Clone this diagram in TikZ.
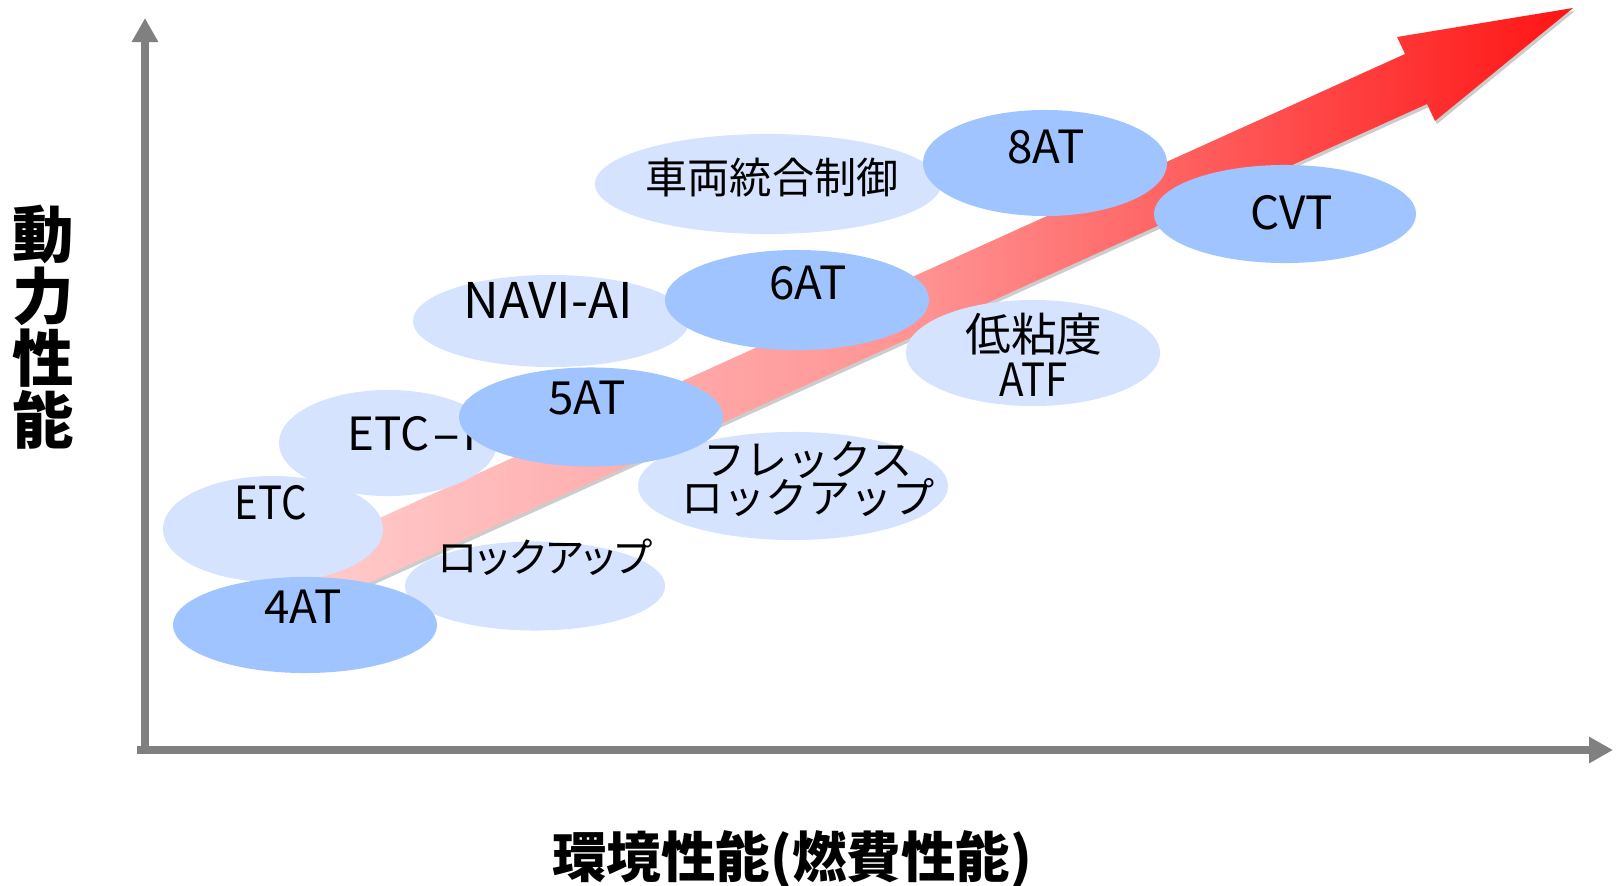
\documentclass[tikz,border=0pt]{standalone}
\usepackage{fontspec}
\setmainfont{Noto Sans CJK JP}
\newfontfamily\narrowfont{Noto Sans CJK JP}[FakeStretch=0.88]
\newfontfamily\paltfont{Noto Sans CJK JP}[RawFeature=+palt]
\usetikzlibrary{shapes.geometric, arrows.meta}
\definecolor{ovlLight}{RGB}{213,227,255}
\definecolor{ovlDark}{RGB}{160,196,255}
\definecolor{axisGray}{RGB}{128,128,128}
\definecolor{arrLeft}{RGB}{255,205,205}
\definecolor{arrMid}{RGB}{255,145,145}
\definecolor{arrRight}{RGB}{255,20,20}

\begin{document}
\begin{tikzpicture}[x=0.01cm, y=-0.01cm,
  techlt/.style={ellipse, fill=ovlLight, inner sep=0pt},
  techdk/.style={ellipse, fill=ovlDark, inner sep=0pt},
  txt/.style={inner sep=0pt, font=\fontsize{13}{15}\selectfont},
  axisline/.style={draw=axisGray, line width=0.075cm, -{Triangle[length=0.24cm, width=0.25cm]}},
  axlbl/.style={inner sep=0pt, font=\bfseries\fontsize{17.5}{17.6}\selectfont, align=center},
]
\useasboundingbox (0,0) rectangle (1616,885);

% axes
\coordinate (origin) at (145,754);
\coordinate (ytip)   at (145,18);
\coordinate (xstart) at (137,750);
\coordinate (xtip)   at (1613,750);
\draw[axisline] (origin) -- (ytip);
\draw[axisline] (xstart) -- (xtip);

\node[axlbl] (ylabel) at (43,327) {動\\力\\性\\能};
\node[inner sep=0pt, font=\bfseries\fontsize{15.5}{17}\selectfont] (xlabel) at (792,860) {環境性能(燃費性能)};

% trend arrow
\fill[black!20] (313,612) -- (291,562) -- (1407,57) -- (1399,40) -- (1575,11) -- (1437,124) -- (1429,107) -- cycle;
\shade[left color=arrLeft, right color=arrRight, middle color=arrMid]
  (311,609) -- (289,559) -- (1405,54) -- (1397,37) -- (1573,8) -- (1435,121) -- (1427,104) -- cycle;

% technologies
\node[techlt, minimum width=3.46cm, minimum height=1.0cm] (ctrl) at (768,184) {};
\node[txt, font=\fontsize{12}{14}\selectfont] (tctrl) at (772,178) {車両統合制御};

\node[techdk, minimum width=2.44cm, minimum height=1.06cm] (at8) at (1045,163) {};
\node[txt] (tat8) at (1046,147) {8AT};

\node[techdk, minimum width=2.62cm, minimum height=0.98cm] (cvt) at (1285,214) {};
\node[txt] (tcvt) at (1292,213) {CVT};

\node[techlt, minimum width=2.76cm, minimum height=0.92cm] (navi) at (551,321) {};
\node[txt, font=\fontsize{14}{16}\selectfont] (tnavi) at (548,300) {NAVI-AI};

\node[techdk, minimum width=2.64cm, minimum height=1.0cm] (at6) at (797,300) {};
\node[txt] (tat6) at (808,283) {6AT};

\node[techlt, minimum width=2.54cm, minimum height=1.06cm] (atf) at (1033,353) {};
\node[txt, align=center, font=\fontsize{13}{12.8}\selectfont] (tatf) at (1034,355) {低粘度\\{\narrowfont ATF}};

\node[techlt, minimum width=2.18cm, minimum height=1.06cm] (etci) at (388,443) {};
\node[txt, anchor=west] (tetci) at (347,433) {ETC\kern0.5pt\scalebox{1.9}[1]{-}\kern0.5pt i};

\node[techlt, minimum width=3.1cm, minimum height=1.08cm] (flex) at (793,486) {};
\node[txt, align=center, font=\fontsize{12}{11}\selectfont] (tflex) at (808,479) {フレックス\\ロックアップ};

\node[techlt, minimum width=2.6cm, minimum height=0.89cm] (lock) at (535,586) {};
\node[txt, font=\paltfont\fontsize{11.5}{14}\selectfont] (tlock) at (545,557) {ロックアップ};

\node[techdk, minimum width=2.64cm, minimum height=0.99cm] (at5) at (591,417) {};
\node[txt] (tat5) at (587,398) {5AT};

\node[techlt, minimum width=2.2cm, minimum height=1.06cm] (etc) at (273,529) {};
\node[txt, font=\narrowfont\fontsize{13}{15}\selectfont] (tetc) at (271,503) {ETC};

\node[techdk, minimum width=2.64cm, minimum height=0.96cm] (at4) at (305,625) {};
\node[txt] (tat4) at (303,607) {4AT};
\end{tikzpicture}
\end{document}
